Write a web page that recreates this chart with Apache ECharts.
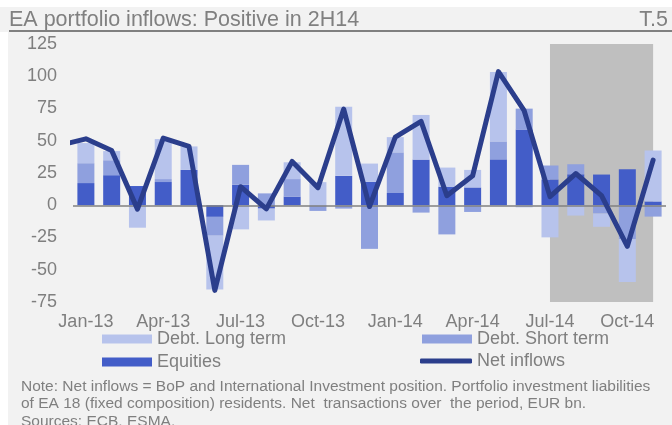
<!DOCTYPE html>
<html>
<head>
<meta charset="utf-8">
<script src="https://cdn.jsdelivr.net/npm/echarts@6/dist/echarts.min.js"></script>
<style>
  html, body { margin: 0; padding: 0; background: #ffffff; }
  #chart { width: 672px; height: 425px; }
</style>
</head>
<body>
<div id="chart"></div>
<script>
// months on the category axis
const months = ["Jan-13", "Feb-13", "Mar-13", "Apr-13", "May-13", "Jun-13", "Jul-13", "Aug-13", "Sep-13", "Oct-13", "Nov-13", "Dec-13",
  "Jan-14", "Feb-14", "Mar-14", "Apr-14", "May-14", "Jun-14", "Jul-14", "Aug-14", "Sep-14", "Oct-14", "Nov-14"];
const yTicks = [-75, -50, -25, 0, 25, 50, 75, 100, 125];

// EUR bn
const equities = [17.2, 23.3, 14.9, 18, 27.4, -9, 15.9, -2.6, 6.7, 0, 22.8, 18.2,
  9.5, 35.4, 14.4, 13.8, 35.6, 58.7, 20, 24, 23.8, 27.9, 3];
const debtShort = [15.4, 11.6, 0, 2.3, 0, -14.6, 15.4, 9.2, 13.6, -4.4, -2.6, -33.8,
  31.5, -5.7, -22.6, -5.2, 13.9, 16.2, 10.8, 7.8, -6.4, -26.2, -8.8];
const debtLong = [15.6, 7.1, -17.4, 31, 18.2, -41.8, -18.7, -9.2, 13, 17.9, 53.6, 14.1,
  11.8, 34.6, 14.8, 13.6, 53.8, -1.6, -24.9, -8, -10.3, -33.3, 39.5];
// net inflows, first value is Dec-12 (only a stub shows at the plot edge)
const netMonths = ["Dec-12"].concat(months);
const netInflows = [46.5, 51.5, 42.5, -3, 52, 45.6, -66, 14.4, -2.8, 34, 13.6, 74.6, -1,
  52.8, 65, 7.4, 22.8, 103.6, 73.3, 6.7, 24.6, 7.4, -31.8, 35];
// shaded period (2H14)
const shadeFrom = "Jul-14";
const shadeTo = "Nov-14";

const grey = "#7f7f7f";
const chart = echarts.init(document.getElementById("chart"));

// month index on the hidden value axis (Jan-13 = 0, Dec-12 = -1)
const idx = (m) => months.indexOf(m);
const netPoints = netInflows.map((v, i) => [i - 1, v]);

const legendText = { color: grey, fontSize: 18, fontFamily: "Liberation Sans", lineHeight: 17 };

const option = {
  animation: false,
  backgroundColor: "#ffffff",
  graphic: [
    // panel backgrounds
    { type: "rect", left: 0, top: 7, shape: { width: 672, height: 25 }, style: { fill: "#f2f2f2" }, silent: true, z: -10 },
    { type: "rect", left: 8, top: 32, shape: { width: 664, height: 393 }, style: { fill: "#f2f2f2" }, silent: true, z: -10 },
    // title rule
    { type: "rect", left: 9, top: 30, shape: { width: 663, height: 2 }, style: { fill: "#808080" }, silent: true },
    { type: "text", left: 9, top: 9, style: { text: "EA portfolio inflows: Positive in 2H14", fill: "#808080",
      font: '21.5px "Liberation Sans", Arial, sans-serif' } },
    { type: "text", right: 4, top: 9, style: { text: "T.5", fill: "#808080",
      font: '21.5px "Liberation Sans", Arial, sans-serif' } },
    { type: "text", left: 21, top: 377.5, style: {
      text: "Note: Net inflows = BoP and International Investment position. Portfolio investment liabilities\n" +
        "of EA 18 (fixed composition) residents. Net  transactions over  the period, EUR bn.\n" +
        "Sources: ECB, ESMA.",
      fill: grey, lineHeight: 17.5, font: '15.5px "Liberation Sans", Arial, sans-serif' } }
  ],
  grid: { left: 73, right: 6, top: 44, bottom: 123, containLabel: false },
  legend: [
    {
      left: 102, top: 330, padding: 0, orient: "vertical", itemWidth: 50, itemHeight: 9, itemGap: 5,
      textStyle: legendText,
      data: [{ name: "Debt. Long term", icon: "rect" }, { name: "Equities", icon: "rect" }]
    },
    {
      left: 422, top: 330, padding: 0, orient: "vertical", itemWidth: 50, itemHeight: 9, itemGap: 5,
      textStyle: legendText,
      data: [{ name: "Debt. Short term", icon: "rect" }]
    },
    {
      left: 420, top: 352, padding: 0, orient: "vertical", itemWidth: 52, itemHeight: 5, itemGap: 5,
      textStyle: legendText,
      data: [{ name: "Net inflows", icon: "roundRect" }]
    }
  ],
  xAxis: [
    {
      type: "category",
      data: months,
      boundaryGap: true,
      axisLine: { show: false },
      axisTick: { show: false },
      axisLabel: { color: grey, fontSize: 18, fontFamily: "Liberation Sans", margin: 11, interval: 2 }
    },
    {
      // hidden value axis lined up with the category centres, for the line and the shading
      type: "value",
      min: -0.5,
      max: months.length - 0.5,
      show: false
    }
  ],
  yAxis: {
    type: "value",
    min: yTicks[0],
    max: yTicks[yTicks.length - 1],
    interval: 25,
    splitLine: { show: false },
    axisLine: { show: false },
    axisTick: { show: false },
    axisLabel: { color: grey, fontSize: 18, fontFamily: "Liberation Sans", margin: 16 }
  },
  series: [
    {
      // shaded 2H14 box
      name: "shade", type: "line", xAxisIndex: 1, data: [], z: 0, silent: true,
      markArea: {
        silent: true,
        itemStyle: { color: "#bfbfbf" },
        data: [[{ xAxis: idx(shadeFrom) }, { xAxis: idx(shadeTo) }]]
      }
    },
    {
      name: "Equities", type: "bar", stack: "flows", barWidth: 17, data: equities,
      itemStyle: { color: "#435dc8" }
    },
    {
      name: "Debt. Short term", type: "bar", stack: "flows", barWidth: 17, data: debtShort,
      itemStyle: { color: "#8fa0de" }
    },
    {
      name: "Debt. Long term", type: "bar", stack: "flows", barWidth: 17, data: debtLong,
      itemStyle: { color: "#b7c3ec" }
    },
    {
      // zero line
      name: "zero", type: "line", data: [], z: 3, silent: true,
      markLine: {
        silent: true, symbol: "none", label: { show: false },
        lineStyle: { color: "#808080", width: 1.5, type: "solid" },
        data: [{ yAxis: 0 }]
      }
    },
    {
      name: "Net inflows", type: "line", xAxisIndex: 1, data: netPoints, z: 5,
      symbol: "none", clip: true,
      lineStyle: { color: "#2b3e8c", width: 5, cap: "round", join: "round" },
      itemStyle: { color: "#2b3e8c" }
    }
  ]
};

chart.setOption(option);
</script>
</body>
</html>
